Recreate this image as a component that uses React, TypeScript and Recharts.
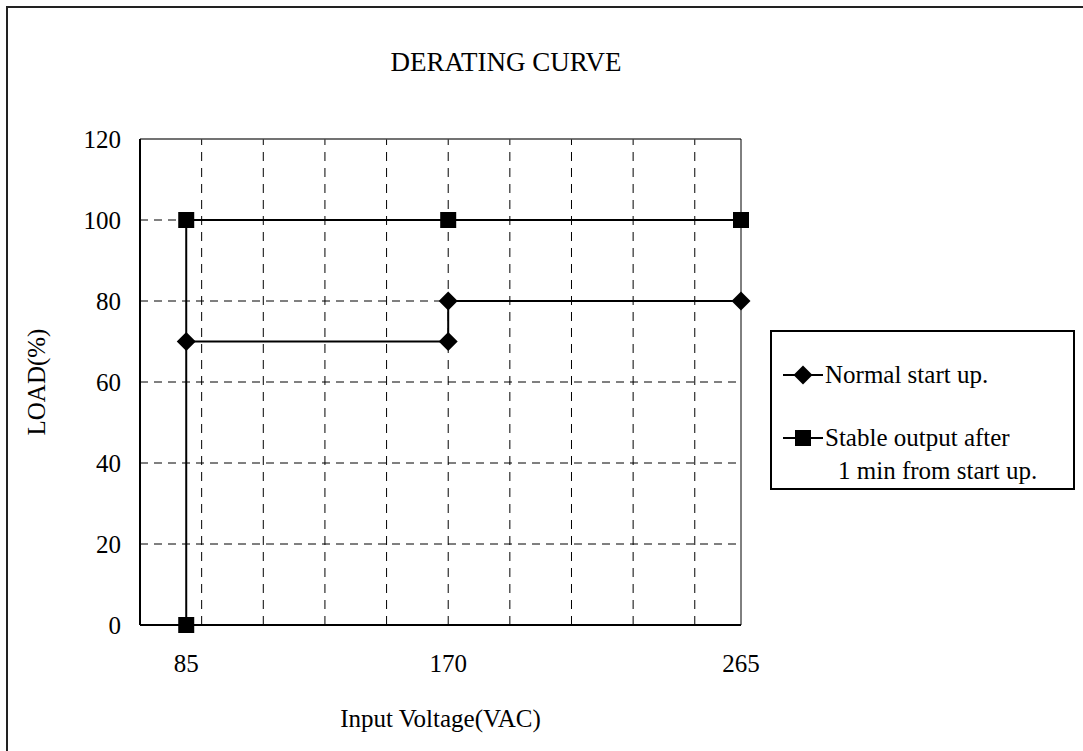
import { LineChart, Line, XAxis, YAxis, ReferenceLine } from 'recharts';

const voltageTicks = [85, 170, 265];
const loadTicks = [0, 20, 40, 60, 80, 100, 120];
const gridVoltages = [90, 110, 130, 150, 170, 190, 210, 230, 250];
const gridLoads = [20, 40, 60, 80, 100];

const normalVoltage = [85, 170, 170, 265];
const normalLoad = [70, 70, 80, 80];
const stableVoltage = [85, 85, 170, 265];
const stableLoad = [0, 100, 100, 100];

const seriesNames = ['Normal start up.', 'Stable output after\n1 min from start up.'];

const FONT = "'Liberation Serif', 'Times New Roman', serif";

const normalData = normalVoltage.map((v, i) => ({ v, load: normalLoad[i] }));
const stableData = stableVoltage.map((v, i) => ({ v, load: stableLoad[i] }));

function Diamond(props: any) {
  const { cx, cy, index } = props;
  const r = 9.5;
  return (
    <polygon
      key={`d-${index}`}
      points={`${cx},${cy - r} ${cx + r},${cy} ${cx},${cy + r} ${cx - r},${cy}`}
      fill="#000"
    />
  );
}

function Square(props: any) {
  const { cx, cy, index } = props;
  const s = 16;
  return <rect key={`s-${index}`} x={cx - s / 2} y={cy - s / 2} width={s} height={s} fill="#000" />;
}

function LegendBox() {
  const textStyle = { fontFamily: FONT, fontSize: 25, color: '#000', lineHeight: '33px' };
  return (
    <div
      style={{
        position: 'absolute',
        left: 770,
        top: 330,
        width: 305,
        height: 160,
        border: '2px solid #000',
        boxSizing: 'border-box',
      }}
    >
      <div style={{ position: 'absolute', left: 10, top: 26, display: 'flex', alignItems: 'center' }}>
        <svg width={42} height={22}>
          <line x1={1} y1={11} x2={41} y2={11} stroke="#000" strokeWidth={2} />
          <polygon points="21,1.5 30.5,11 21,20.5 11.5,11" fill="#000" />
        </svg>
        <span style={{ ...textStyle, marginLeft: 1 }}>{seriesNames[0]}</span>
      </div>
      <div style={{ position: 'absolute', left: 10, top: 89 }}>
        <div style={{ display: 'flex', alignItems: 'center' }}>
          <svg width={42} height={22}>
            <line x1={1} y1={11} x2={41} y2={11} stroke="#000" strokeWidth={2} />
            <rect x={13} y={3} width={16} height={16} fill="#000" />
          </svg>
          <span style={{ ...textStyle, marginLeft: 1 }}>{seriesNames[1].split('\n')[0]}</span>
        </div>
        <div style={{ ...textStyle, marginLeft: 56 }}>{seriesNames[1].split('\n')[1]}</div>
      </div>
    </div>
  );
}

export default function App() {
  return (
    <div style={{ position: 'absolute', left: 0, top: 0, width: 1083, height: 751, background: '#fff' }}>
      <div
        style={{
          position: 'absolute',
          left: 6,
          top: 6,
          width: 1077,
          height: 745,
          borderLeft: '2px solid #222',
          borderTop: '2px solid #222',
          boxSizing: 'border-box',
        }}
      />
      <div
        style={{
          position: 'absolute',
          left: 140,
          width: 732,
          top: 49,
          textAlign: 'center',
          fontFamily: FONT,
          fontSize: 27,
          lineHeight: '27px',
        }}
      >
        DERATING CURVE
      </div>
      <div style={{ position: 'absolute', left: 0, top: 0 }}>
        <LineChart width={1083} height={751} margin={{ top: 139, right: 342, bottom: 66, left: 80 }}>
          <XAxis
            type="number"
            dataKey="v"
            domain={[70, 265]}
            ticks={voltageTicks}
            allowDuplicatedCategory={false}
            height={60}
            tickLine={false}
            tickSize={0}
            tickMargin={29}
            axisLine={{ stroke: '#000', strokeWidth: 2 }}
            tick={{ fill: '#000', fontSize: 25, fontFamily: FONT }}
          />
          <YAxis
            type="number"
            domain={[0, 120]}
            ticks={loadTicks}
            width={60}
            tickLine={false}
            tickSize={0}
            tickMargin={19}
            axisLine={{ stroke: '#000', strokeWidth: 2 }}
            tick={{ fill: '#000', fontSize: 25, fontFamily: FONT }}
          />
          {gridLoads.map((y) => (
            <ReferenceLine key={`h-${y}`} y={y} stroke="#000" strokeWidth={1} strokeDasharray="8 6" />
          ))}
          {gridVoltages.map((x) => (
            <ReferenceLine key={`v-${x}`} x={x} stroke="#000" strokeWidth={1} strokeDasharray="9 7" />
          ))}
          <ReferenceLine y={120} stroke="#444" strokeWidth={1.5} />
          <ReferenceLine x={265} stroke="#000" strokeWidth={1} />
          <Line
            data={normalData}
            dataKey="load"
            name={seriesNames[0]}
            type="linear"
            stroke="#000"
            strokeWidth={2}
            dot={<Diamond />}
            isAnimationActive={false}
          />
          <Line
            data={stableData}
            dataKey="load"
            name={seriesNames[1]}
            type="linear"
            stroke="#000"
            strokeWidth={2}
            dot={<Square />}
            isAnimationActive={false}
          />
        </LineChart>
      </div>
      <div
        style={{
          position: 'absolute',
          left: 140,
          width: 601,
          top: 706,
          textAlign: 'center',
          fontFamily: FONT,
          fontSize: 25,
          lineHeight: '25px',
        }}
      >
        Input Voltage(VAC)
      </div>
      <div
        style={{
          position: 'absolute',
          left: 36,
          top: 382,
          transform: 'translate(-50%, -50%) rotate(-90deg)',
          fontFamily: FONT,
          fontSize: 25,
          lineHeight: '25px',
          whiteSpace: 'nowrap',
        }}
      >
        LOAD(%)
      </div>
      <LegendBox />
    </div>
  );
}
